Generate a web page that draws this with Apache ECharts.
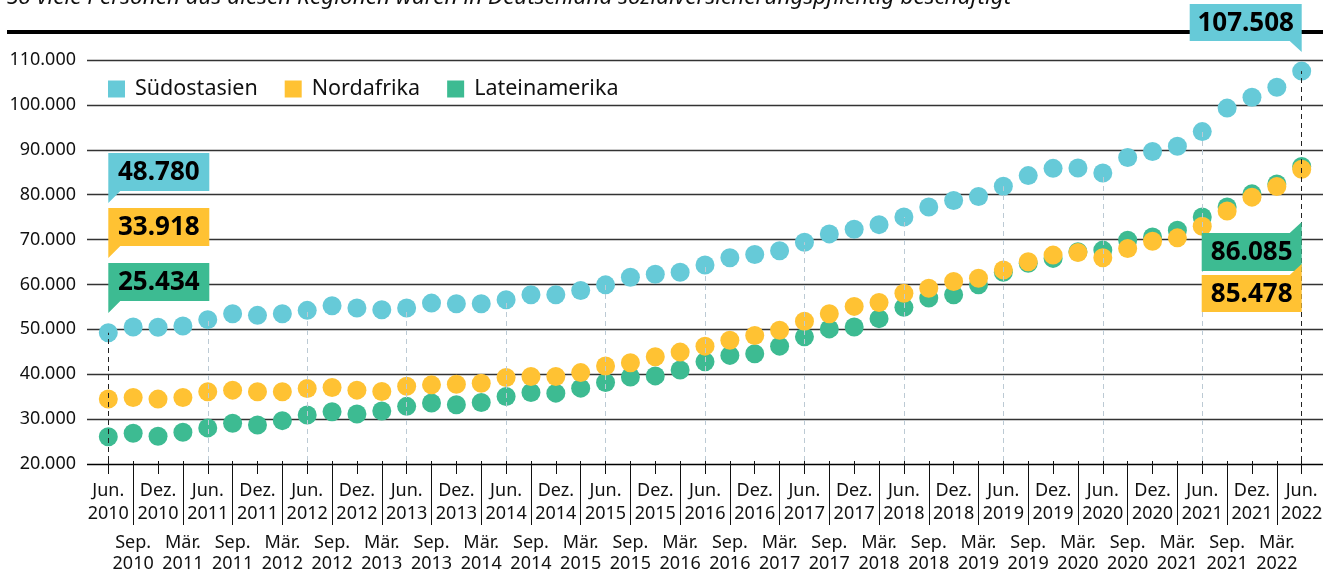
<!DOCTYPE html>
<html>
<head>
<meta charset="utf-8">
<script src="https://cdn.jsdelivr.net/npm/echarts@6/dist/echarts.min.js"></script>
<style>
  html, body { margin: 0; padding: 0; background: #fff; }
  #chart { width: 1337px; height: 574px; }
</style>
</head>
<body>
<div id="chart"></div>
<script>
// quarters, Jun. 2010 .. Jun. 2022
const categories = [
  'Jun. 2010', 'Sep. 2010', 'Dez. 2010',
  'Mär. 2011', 'Jun. 2011', 'Sep. 2011', 'Dez. 2011',
  'Mär. 2012', 'Jun. 2012', 'Sep. 2012', 'Dez. 2012',
  'Mär. 2013', 'Jun. 2013', 'Sep. 2013', 'Dez. 2013',
  'Mär. 2014', 'Jun. 2014', 'Sep. 2014', 'Dez. 2014',
  'Mär. 2015', 'Jun. 2015', 'Sep. 2015', 'Dez. 2015',
  'Mär. 2016', 'Jun. 2016', 'Sep. 2016', 'Dez. 2016',
  'Mär. 2017', 'Jun. 2017', 'Sep. 2017', 'Dez. 2017',
  'Mär. 2018', 'Jun. 2018', 'Sep. 2018', 'Dez. 2018',
  'Mär. 2019', 'Jun. 2019', 'Sep. 2019', 'Dez. 2019',
  'Mär. 2020', 'Jun. 2020', 'Sep. 2020', 'Dez. 2020',
  'Mär. 2021', 'Jun. 2021', 'Sep. 2021', 'Dez. 2021',
  'Mär. 2022', 'Jun. 2022'
];

const suedostasien = [
  48780, 50090, 50000, 50300, 51730, 53060, 52690, 53060, 53810, 54850,
  54330, 53960, 54330, 55440, 55290, 55290, 56180, 57300, 57300, 58260,
  59530, 61240, 61900, 62350, 63990, 65620, 66360, 67180, 69110, 70970,
  72010, 73050, 74760, 76990, 78470, 79370, 81670, 84050, 85680, 85750,
  84640, 88130, 89470, 90660, 93930, 99200, 101660, 103890, 107508
];
const nordafrika = [
  33918, 34270, 33890, 34270, 35530, 35900, 35530, 35530, 36270, 36490,
  35900, 35600, 36790, 37090, 37240, 37460, 38720, 38950, 38950, 39840,
  41320, 42070, 43400, 44440, 45780, 47120, 48160, 49350, 51350, 53060,
  54700, 55590, 57670, 58780, 60270, 61010, 62870, 64730, 66210, 66810,
  65620, 67700, 69340, 70080, 72680, 76100, 79220, 81600, 85478
];
const lateinamerika = [
  25434, 26240, 25570, 26460, 27430, 28470, 28100, 29060, 30330, 31070,
  30550, 31220, 32260, 33000, 32630, 33150, 34490, 35380, 35230, 36350,
  37610, 38870, 39100, 40430, 42290, 43700, 44070, 45780, 47860, 49650,
  50090, 51950, 54480, 56560, 57300, 59530, 62350, 64360, 65470, 66960,
  67330, 69560, 70300, 71790, 74760, 76990, 79960, 82190, 86085
];

const yMin = 20000, yMax = 110000, yStep = 10000;

const BLUE = '#66cad8', YELLOW = '#ffc233', GREEN = '#3dbb92';
const FONT = '"Noto Sans", sans-serif';

function fmt(v) {
  return String(v).replace(/\B(?=(\d{3})+(?!\d))/g, '.');
}

let chart = echarts.init(document.getElementById('chart'));

// dashed guides at every June, from axis up to the Südostasien dot
const guides = [];
for (let i = 0; i < categories.length; i += 4) {
  const edge = i === 0 || i === categories.length - 1;
  guides.push([
    { coord: [i, yMin], lineStyle: { color: edge ? '#222' : '#bccad4' } },
    { coord: [i, suedostasien[i]] }
  ]);
}

const option = {
  animation: false,
  textStyle: { fontFamily: FONT },
  grid: [
    { left: 87, right: 14, top: 60, bottom: 110 },
    { left: 108.3, right: 35.3, top: 60, bottom: 110 }
  ],
  legend: {
    data: ['Südostasien', 'Nordafrika', 'Lateinamerika'],
    left: 103, top: 73,
    icon: 'rect',
    itemWidth: 17, itemHeight: 17, itemGap: 27,
    textStyle: { fontFamily: FONT, fontSize: 21.5, color: '#111', padding: [0, 0, 0, 5] }
  },
  xAxis: [
    { type: 'value', gridIndex: 0, show: false, min: 0, max: 1 },
    {
      type: 'category', gridIndex: 1, data: categories, boundaryGap: false,
      axisLine: { show: false },
      axisTick: { show: true, interval: 0, length: 13, lineStyle: { color: '#111' } },
      axisLabel: {
        interval: (i) => i % 2 === 0,
        formatter: (v) => v.replace(' ', '\n'),
        margin: 18, fontSize: 18, lineHeight: 23, color: '#111', fontFamily: FONT
      }
    },
    {
      type: 'category', gridIndex: 1, data: categories, boundaryGap: false,
      position: 'bottom',
      axisLine: { show: false },
      axisTick: { show: true, interval: (i) => i % 2 === 1, length: 64, lineStyle: { color: '#111' } },
      axisLabel: {
        interval: (i) => i % 2 === 1,
        formatter: (v) => v.replace(' ', '\n'),
        margin: 71, fontSize: 18, lineHeight: 21, color: '#111', fontFamily: FONT
      }
    }
  ],
  yAxis: [
    {
      type: 'value', gridIndex: 0, min: yMin, max: yMax, interval: yStep,
      axisLine: { show: false }, axisTick: { show: false },
      axisLabel: { formatter: fmt, fontSize: 18, color: '#111', margin: 11, fontFamily: FONT },
      splitLine: {
        lineStyle: {
          color: ['#000', '#333', '#333', '#333', '#333', '#333', '#333', '#333', '#333', '#333'],
          width: 1.3
        }
      }
    },
    { type: 'value', gridIndex: 1, min: yMin, max: yMax, interval: yStep, show: false }
  ],
  series: [
    {
      name: 'guides', type: 'scatter', xAxisIndex: 1, yAxisIndex: 1, data: [], z: 1,
      markLine: {
        silent: true, symbol: 'none', label: { show: false },
        lineStyle: { type: [5, 4], width: 1 },
        data: guides
      }
    },
    {
      name: 'Südostasien', type: 'scatter', xAxisIndex: 1, yAxisIndex: 1,
      data: suedostasien, symbolSize: 19, itemStyle: { color: BLUE, opacity: 1 }, z: 3
    },
    {
      name: 'Lateinamerika', type: 'scatter', xAxisIndex: 1, yAxisIndex: 1,
      data: lateinamerika, symbolSize: 19, itemStyle: { color: GREEN, opacity: 1 }, z: 3
    },
    {
      name: 'Nordafrika', type: 'scatter', xAxisIndex: 1, yAxisIndex: 1,
      data: nordafrika, symbolSize: 19, itemStyle: { color: YELLOW, opacity: 1 }, z: 4
    }
  ],
  graphic: [
    {
      id: 'headline', type: 'text', x: 7, y: -2,
      style: {
        text: 'So viele Personen aus diesen Regionen waren in Deutschland sozialversicherungspflichtig beschäftigt',
        fontFamily: FONT, fontSize: 22.5, fontStyle: 'italic', fill: '#111',
        verticalAlign: 'middle'
      }
    },
    { id: 'topbar', type: 'rect', shape: { x: 7, y: 30, width: 1316, height: 4 }, style: { fill: '#000' } }
  ]
};

chart.setOption(option);

// value callouts, anchored on the first / last quarter
function callout(id, x, y, w, h, tail, color, value) {
  let pts;
  if (tail === 'bl') pts = [[x, y], [x + w, y], [x + w, y + h], [x + 12, y + h], [x, y + h + 12]];
  else if (tail === 'br') pts = [[x, y], [x + w, y], [x + w, y + h + 11], [x + w - 12, y + h], [x, y + h]];
  else pts = [[x, y], [x + w - 12, y], [x + w, y - 11], [x + w, y + h], [x, y + h]];
  return [
    { id: id + '-box', type: 'polygon', shape: { points: pts }, style: { fill: color }, z: 10 },
    {
      id: id + '-txt', type: 'text', x: x + w / 2, y: y + h / 2 + 1, z: 11,
      style: {
        text: fmt(value), fontFamily: FONT, fontSize: 26, fontWeight: 'bold',
        fill: '#000', align: 'center', verticalAlign: 'middle'
      }
    }
  ];
}

const last = categories.length - 1;
const xFirst = chart.convertToPixel({ gridIndex: 1 }, [0, yMin])[0];
const xLast = chart.convertToPixel({ gridIndex: 1 }, [last, yMin])[0];

chart.setOption({
  graphic: [].concat(
    callout('c1', xFirst, 153, 101, 38, 'bl', BLUE, suedostasien[0]),
    callout('c2', xFirst, 208, 101, 38, 'bl', YELLOW, nordafrika[0]),
    callout('c3', xFirst, 263, 101, 38, 'bl', GREEN, lateinamerika[0]),
    callout('c4', xLast - 112, 4, 112, 37, 'br', BLUE, suedostasien[last]),
    callout('c5', xLast - 100, 233, 100, 38, 'tr', GREEN, lateinamerika[last]),
    callout('c6', xLast - 100, 275, 100, 37, 'tr', YELLOW, nordafrika[last])
  )
});
</script>
</body>
</html>
